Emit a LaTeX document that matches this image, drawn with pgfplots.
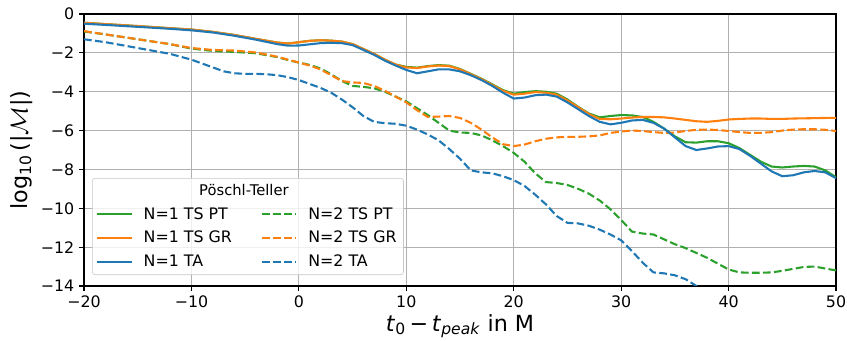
\documentclass[border=0pt]{standalone}
\usepackage{pgfplots}
\pgfplotsset{compat=1.18}
\usepackage{fontspec}
\setmainfont{DejaVu Sans}
\definecolor{tabblue}{HTML}{1F77B4}
\definecolor{taborange}{HTML}{FF7F0E}
\definecolor{tabgreen}{HTML}{2CA02C}
\definecolor{gridgray}{HTML}{B0B0B0}
\begin{document}
\begin{tikzpicture}
\begin{axis}[
  scale only axis,
  width=541.4pt, height=195.8pt,
  xmin=-20, xmax=50, ymin=-14, ymax=0,
  xtick={-20,-10,0,10,20,30,40,50},
  xticklabels={−20,−10,0,10,20,30,40,50},
  ytick={-14,-12,-10,-8,-6,-4,-2,0},
  yticklabels={−14,−12,−10,−8,−6,−4,−2,0},
  tick label style={font=\fontsize{11.4}{13.7}\selectfont},
  xtick pos=left, ytick pos=left,
  tick align=outside,
  major tick length=3.5pt,
  every tick/.style={black, line width=0.8pt},
  axis line style={line width=0.8pt},
  grid=major,
  major grid style={gridgray, line width=0.8pt},
  xlabel={\textit{t}\textsubscript{0}\,−\,\textit{t}\textsubscript{\textit{peak}} in M},
  ylabel={log\textsubscript{10}\,(|$\mathcal{M}$|)},
  label style={font=\fontsize{16}{19}\selectfont},
  xlabel style={yshift=2pt},
  ylabel style={yshift=-1pt},
  legend columns=2,
  legend cell align=left,
  legend image code/.code={\draw[#1] (0pt,0pt) -- (24.5pt,0pt);},
  legend style={
    at={(rel axis cs:0.0106,0.397)}, anchor=north west,
    font=\fontsize{11.4}{13.7}\selectfont,
    draw=gridgray!70, rounded corners=2pt,
    fill=white, fill opacity=0.8, text opacity=1,
    inner xsep=3pt, inner ysep=2.5pt,
    row sep=3pt,
    /tikz/every odd column/.style={column sep=6pt},
    /tikz/column 2/.style={column sep=19pt},
  },
  every axis plot/.append style={line width=1.5pt},
]
\coordinate (bl) at (rel axis cs:0,0);
\coordinate (tr) at (rel axis cs:1,1);

\addlegendimage{empty legend}
\addlegendentry{\makebox[0pt][l]{\hspace{40pt}\fontsize{10.6}{13}\selectfont Pöschl-Teller}}
\addlegendimage{empty legend}
\addlegendentry{}

% N=1 TS PT (green solid)
\addplot[tabgreen] coordinates {
(-20,-0.45) (-18,-0.52) (-15,-0.62) (-12,-0.73) (-10,-0.8) (-8,-0.92) (-6,-1.08) (-4,-1.28) (-2,-1.47) (-1,-1.52)
(0,-1.45) (1,-1.38) (2,-1.35) (3,-1.37) (4,-1.42) (5,-1.55) (6,-1.8) (7,-2.05) (8,-2.35) (9,-2.6)
(10,-2.72) (11,-2.76) (12,-2.68) (13,-2.63) (14,-2.66) (15,-2.83) (16,-3.08) (17,-3.33) (18,-3.62) (19,-3.92)
(20,-4.1) (21,-4.02) (22,-3.97) (23,-4.0) (24,-4.1) (25,-4.4) (26,-4.78) (27,-5.12) (28,-5.32) (29,-5.25)
(30,-5.2) (31,-5.22) (32,-5.3) (33,-5.55) (34,-5.9) (35,-6.3) (36,-6.6) (37,-6.62) (38,-6.55) (39,-6.55)
(40,-6.65) (41,-6.9) (42,-7.25) (43,-7.6) (44,-7.85) (45,-7.9) (46,-7.85) (47,-7.82) (48,-7.85) (49,-8.05) (50,-8.4)
};
\addlegendentry{N=1 TS PT}

% N=2 TS PT (green dashed)
\addplot[tabgreen, dash pattern=on 5.55pt off 2.4pt] coordinates {
(-20,-0.9) (-18,-1.05) (-15,-1.3) (-12,-1.55) (-10,-1.78) (-8,-1.9) (-6,-1.95) (-4,-2.02) (-2,-2.22) (-1,-2.37)
(0,-2.5) (1,-2.62) (2,-2.8) (3,-3.1) (4,-3.45) (5,-3.7) (6,-3.75) (7,-3.82) (8,-4.0) (9,-4.25)
(10,-4.5) (11,-4.85) (12,-5.2) (13,-5.6) (14,-6.0) (15,-6.1) (16,-6.12) (17,-6.25) (18,-6.5) (19,-6.8)
(20,-7.15) (21,-7.6) (22,-8.2) (23,-8.65) (24,-8.7) (25,-8.8) (26,-9.0) (27,-9.25) (28,-9.6) (29,-10.05)
(30,-10.6) (31,-11.2) (32,-11.3) (33,-11.35) (34,-11.6) (35,-11.85) (36,-12.05) (37,-12.3) (38,-12.55) (39,-12.85)
(40,-13.15) (41,-13.3) (42,-13.32) (43,-13.32) (44,-13.3) (45,-13.22) (46,-13.12) (47,-13.02) (48,-13.0) (49,-13.1) (50,-13.2)
};
\addlegendentry{N=2 TS PT}

% N=1 TS GR (orange solid)
\addplot[taborange] coordinates {
(-20,-0.45) (-18,-0.52) (-15,-0.62) (-12,-0.73) (-10,-0.8) (-8,-0.92) (-6,-1.08) (-4,-1.28) (-2,-1.47) (-1,-1.52)
(0,-1.45) (1,-1.38) (2,-1.35) (3,-1.37) (4,-1.42) (5,-1.55) (6,-1.8) (7,-2.05) (8,-2.35) (9,-2.6)
(10,-2.75) (11,-2.78) (12,-2.7) (13,-2.65) (14,-2.68) (15,-2.85) (16,-3.1) (17,-3.35) (18,-3.65) (19,-3.95)
(20,-4.15) (21,-4.1) (22,-4.02) (23,-4.05) (24,-4.15) (25,-4.45) (26,-4.8) (27,-5.15) (28,-5.4) (29,-5.42)
(30,-5.38) (31,-5.33) (32,-5.3) (33,-5.3) (34,-5.32) (35,-5.38) (36,-5.45) (37,-5.52) (38,-5.55) (39,-5.5)
(40,-5.43) (41,-5.4) (42,-5.38) (43,-5.38) (44,-5.4) (45,-5.4) (46,-5.38) (47,-5.37) (48,-5.36) (49,-5.35) (50,-5.35)
};
\addlegendentry{N=1 TS GR}

% N=2 TS GR (orange dashed)
\addplot[taborange, dash pattern=on 5.55pt off 2.4pt] coordinates {
(-20,-0.88) (-18,-1.05) (-15,-1.3) (-12,-1.55) (-10,-1.75) (-8,-1.85) (-6,-1.88) (-4,-1.98) (-2,-2.2) (-1,-2.35)
(0,-2.5) (1,-2.65) (2,-2.85) (3,-3.15) (4,-3.45) (5,-3.52) (6,-3.55) (7,-3.7) (8,-3.95) (9,-4.25)
(10,-4.55) (11,-4.95) (12,-5.3) (13,-5.28) (14,-5.25) (15,-5.35) (16,-5.6) (17,-5.95) (18,-6.35) (19,-6.7)
(20,-6.8) (21,-6.72) (22,-6.55) (23,-6.42) (24,-6.35) (25,-6.32) (26,-6.32) (27,-6.3) (28,-6.25) (29,-6.12)
(30,-6.05) (31,-6.0) (32,-6.02) (33,-6.08) (34,-6.12) (35,-6.1) (36,-6.02) (37,-5.96) (38,-5.95) (39,-5.97)
(40,-6.02) (41,-6.08) (42,-6.12) (43,-6.12) (44,-6.08) (45,-6.0) (46,-5.95) (47,-5.93) (48,-5.93) (49,-5.96) (50,-6.02)
};
\addlegendentry{N=2 TS GR}

% N=1 TA (blue solid)
\addplot[tabblue] coordinates {
(-20,-0.5) (-18,-0.56) (-15,-0.66) (-12,-0.76) (-10,-0.84) (-8,-0.95) (-6,-1.12) (-4,-1.32) (-2,-1.55) (-1,-1.63)
(0,-1.62) (1,-1.56) (2,-1.5) (3,-1.48) (4,-1.5) (5,-1.6) (6,-1.85) (7,-2.1) (8,-2.4) (9,-2.65)
(10,-2.88) (11,-3.05) (12,-2.95) (13,-2.85) (14,-2.85) (15,-2.95) (16,-3.15) (17,-3.4) (18,-3.7) (19,-4.05)
(20,-4.35) (21,-4.3) (22,-4.18) (23,-4.15) (24,-4.25) (25,-4.55) (26,-4.9) (27,-5.25) (28,-5.55) (29,-5.68)
(30,-5.6) (31,-5.48) (32,-5.45) (33,-5.6) (34,-5.9) (35,-6.35) (36,-6.8) (37,-7.0) (38,-6.92) (39,-6.82)
(40,-6.8) (41,-6.95) (42,-7.3) (43,-7.7) (44,-8.1) (45,-8.35) (46,-8.3) (47,-8.15) (48,-8.08) (49,-8.15) (50,-8.45)
};
\addlegendentry{N=1 TA}

% N=2 TA (blue dashed)
\addplot[tabblue, dash pattern=on 5.55pt off 2.4pt] coordinates {
(-20,-1.3) (-18,-1.45) (-15,-1.75) (-12,-2.05) (-10,-2.35) (-8,-2.75) (-7,-2.95) (-6,-3.05) (-5,-3.08) (-4,-3.08)
(-3,-3.1) (-2,-3.15) (-1,-3.25) (0,-3.4) (1,-3.6) (2,-3.8) (3,-4.05) (4,-4.4) (5,-4.8) (6,-5.25)
(7,-5.55) (8,-5.62) (9,-5.65) (10,-5.75) (11,-5.95) (12,-6.2) (13,-6.5) (14,-6.95) (15,-7.45) (16,-8.05)
(17,-8.15) (18,-8.2) (19,-8.35) (20,-8.55) (21,-8.85) (22,-9.3) (23,-9.8) (24,-10.4) (25,-10.75) (26,-10.78)
(27,-10.9) (28,-11.1) (29,-11.35) (30,-11.65) (31,-12.2) (32,-12.8) (33,-13.3) (34,-13.35) (35,-13.45) (36,-13.65)
(37,-14.0) (37.5,-14.3)
};
\addlegendentry{N=2 TA}
\end{axis}
\pgfresetboundingbox
\path[use as bounding box] ([xshift=-60.5pt,yshift=-38.9pt]bl) rectangle ([xshift=7.9pt,yshift=10.1pt]tr);
\end{tikzpicture}
\end{document}
